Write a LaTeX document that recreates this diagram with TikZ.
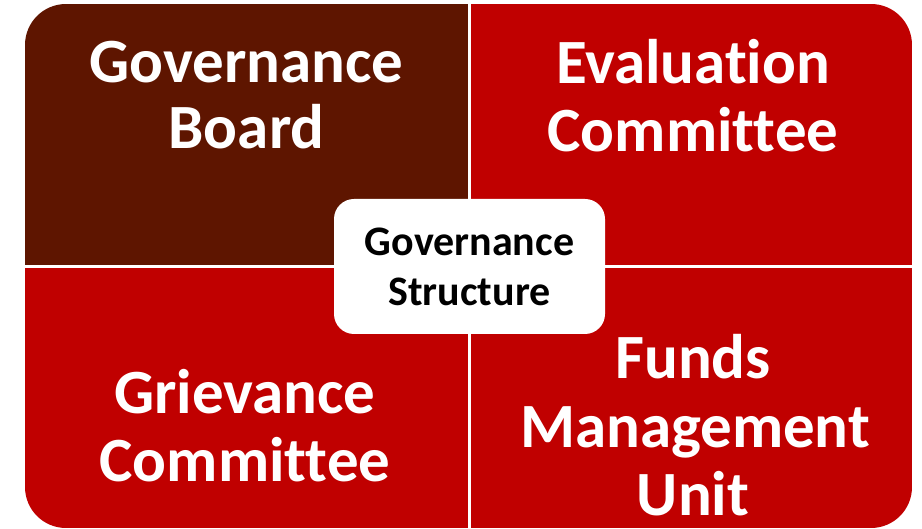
\documentclass[tikz,border=0pt]{standalone}
\usepackage{fontspec}
\setmainfont{Carlito}[Ligatures=NoCommon]
\definecolor{darkq}{RGB}{94,21,0}
\definecolor{redq}{RGB}{192,0,0}
\tikzset{
  big/.style={text=white, font=\fontsize{63}{66}\selectfont\bfseries, anchor=base, inner sep=0pt},
  centerbox/.style={fill=white, rounded corners=20pt, minimum width=271pt, minimum height=135pt, inner sep=0pt,
    align=center, font=\fontsize{42}{50}\selectfont\bfseries, text=black}
}
\begin{document}
\begin{tikzpicture}[x=1pt,y=-1pt]
\fill[white] (0,0) rectangle (922,529);
\useasboundingbox (0,0) rectangle (922,529);
\begin{scope}
  \clip[rounded corners=41pt] (25,4) rectangle (912,528);
  \fill[darkq] (25,4) rectangle (468,265);
  \fill[redq] (471,4) rectangle (912,265);
  \fill[redq] (25,268) rectangle (468,528);
  \fill[redq] (471,268) rectangle (912,528);
\end{scope}
\node[big] (tla) at (246.5,83) {Governance};
\node[big] (tlb) at (246.5,149) {Board};
\node[big] (tra) at (693,84) {Evaluation};
\node[big] (trb) at (693,152) {Committee};
\node[big] (bla) at (245,414) {Grievance};
\node[big] (blb) at (245,482) {Committee};
\node[big] (bra) at (693,379) {Funds};
\node[big] (brb) at (695,448) {Management};
\node[big] (brc) at (693,515) {Unit};
\node[centerbox] (center) at (469.5,266.5) {Governance\\Structure};
\end{tikzpicture}
\end{document}
